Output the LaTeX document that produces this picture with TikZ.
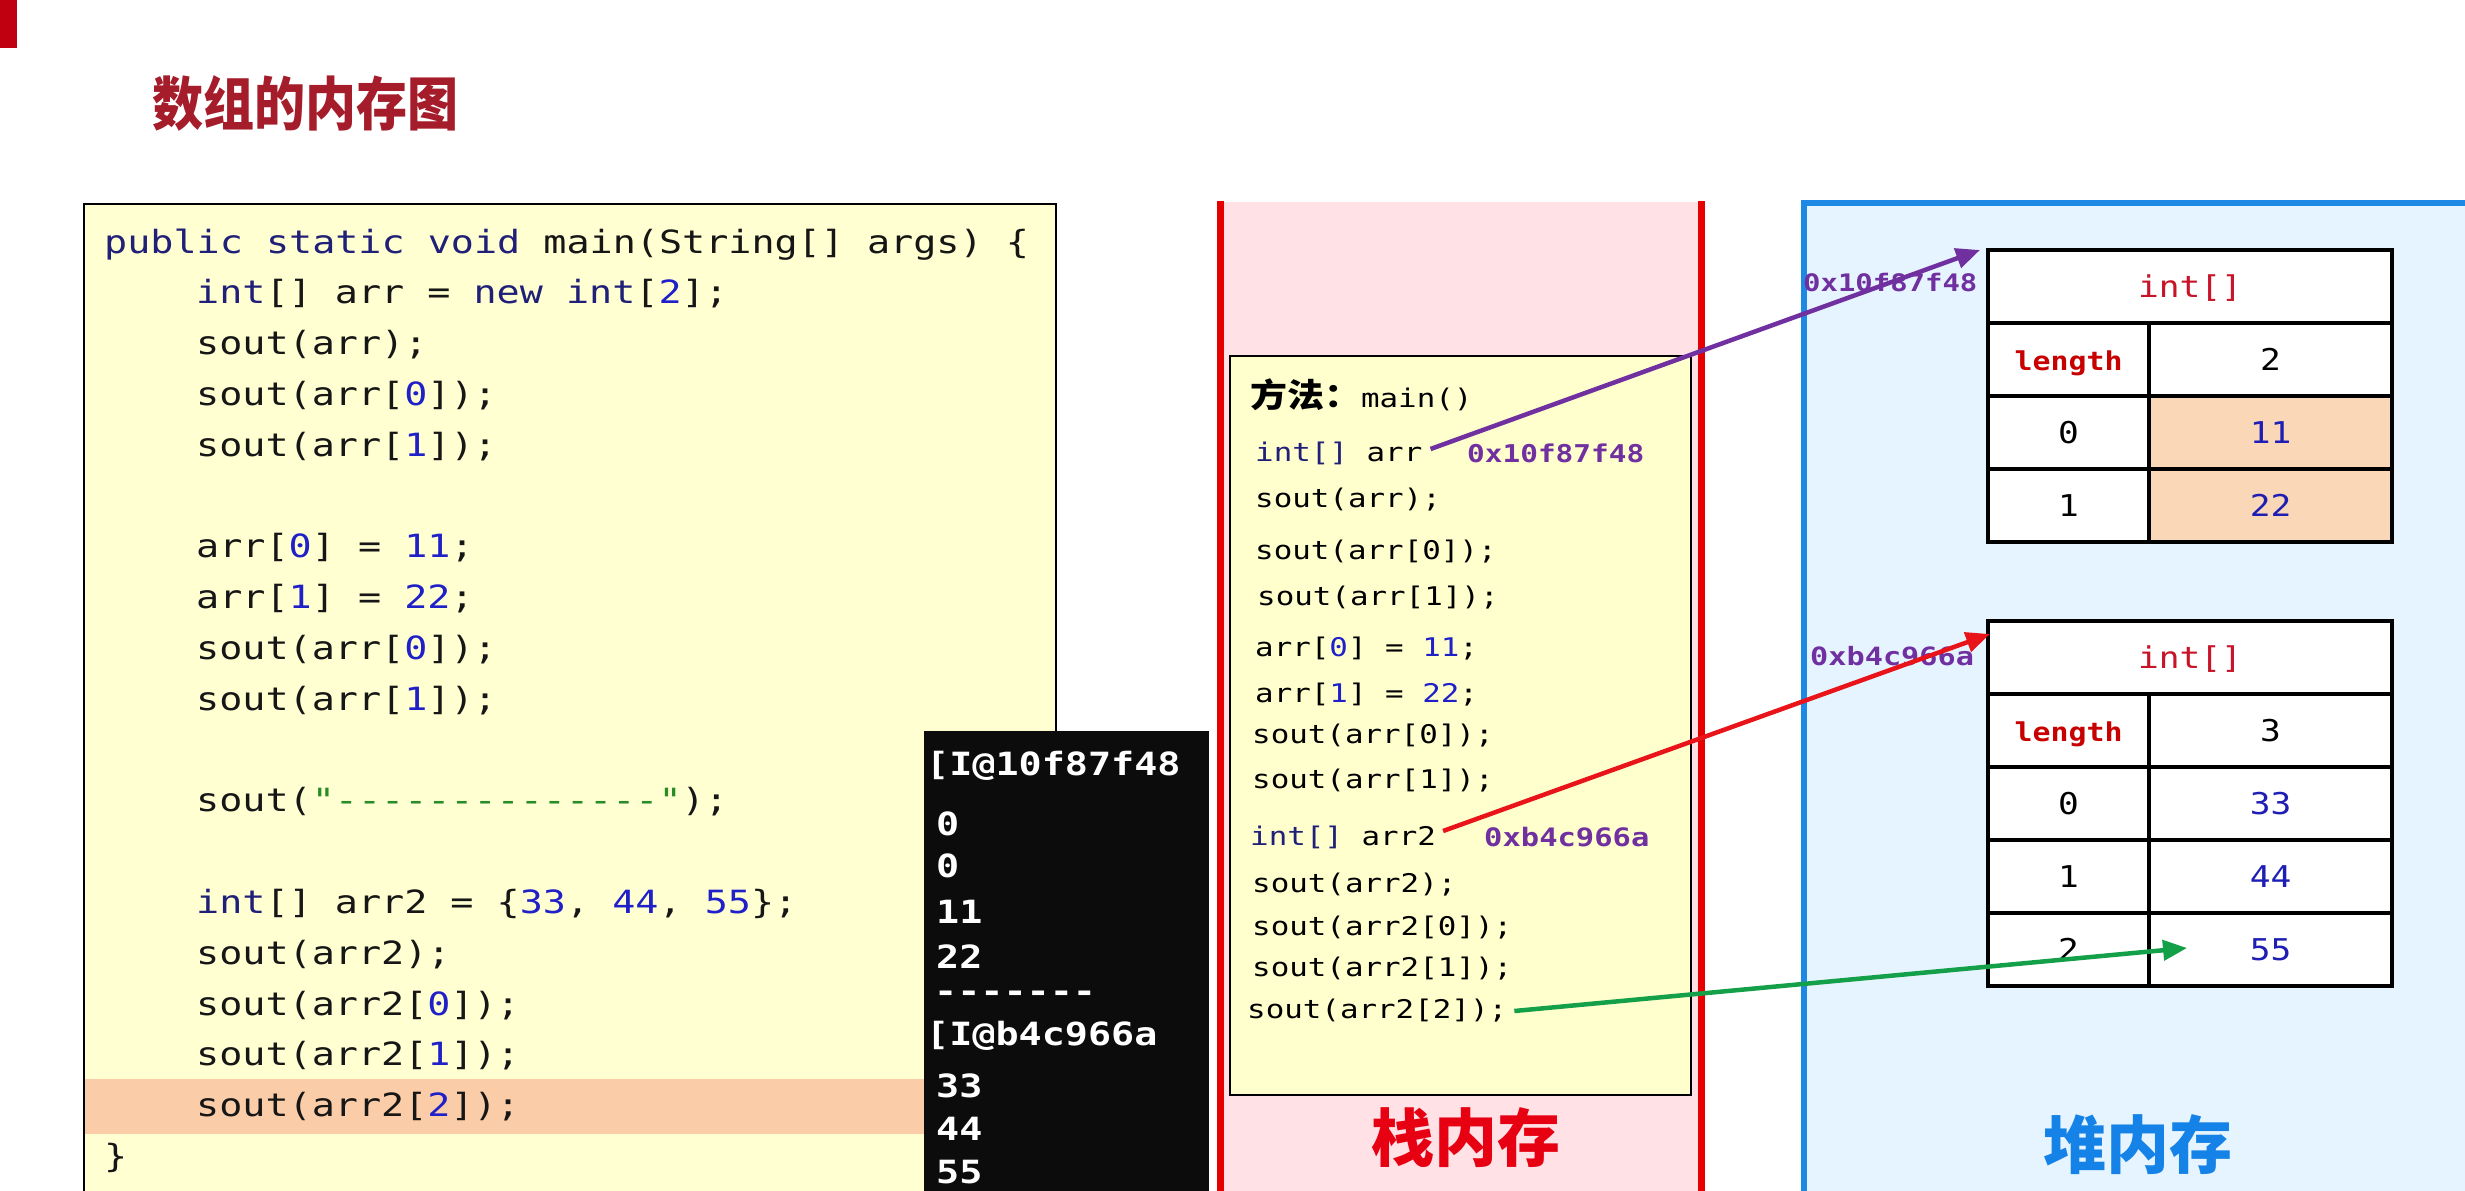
\documentclass[tikz,border=0pt]{standalone}
\usepackage{fontspec}
\usetikzlibrary{arrows.meta,calc}
\newfontfamily\codef{DejaVu Sans Mono}[FakeStretch=1.2]
\newfontfamily\tabf{DejaVu Sans Mono}[FakeStretch=1.15]
\newfontfamily\cjk{Noto Sans CJK SC}
\newfontfamily\cjkt{Noto Sans CJK SC}[FakeStretch=0.88]
\newfontfamily\cjkw{Noto Sans CJK SC}[FakeStretch=1.12]
\definecolor{redbar}{RGB}{192,0,16}
\definecolor{titlec}{RGB}{165,28,42}
\definecolor{codebg}{RGB}{255,255,210}
\definecolor{framebg}{RGB}{255,255,206}
\definecolor{hlc}{RGB}{251,204,168}
\definecolor{consbg}{RGB}{12,12,12}
\definecolor{kwc}{RGB}{32,32,120}
\definecolor{numc}{RGB}{32,32,200}
\definecolor{strc}{RGB}{40,140,40}
\definecolor{codec}{RGB}{22,22,22}
\definecolor{pinkc}{RGB}{255,225,230}
\definecolor{stackred}{RGB}{230,0,0}
\definecolor{heapbg}{RGB}{230,244,255}
\definecolor{heapblue}{RGB}{30,136,229}
\definecolor{stackt}{RGB}{230,0,18}
\definecolor{heapt}{RGB}{20,130,230}
\definecolor{purp}{RGB}{112,48,160}
\definecolor{redarr}{RGB}{232,20,26}
\definecolor{grn}{RGB}{20,160,72}
\definecolor{hdrc}{RGB}{200,20,40}
\definecolor{lenc}{RGB}{200,0,0}
\definecolor{valc}{RGB}{30,30,180}
\definecolor{peach}{RGB}{250,215,182}
\newcommand\kw[1]{\textcolor{kwc}{#1}}
\newcommand\nm[1]{\textcolor{numc}{#1}}
\newcommand\hy{-\kern0pt}
\tikzset{
  code/.style={anchor=base west, inner sep=0pt, font=\codef\fontsize{32}{38}\selectfont, text=codec},
  cons/.style={anchor=base west, inner sep=0pt, font=\codef\bfseries\fontsize{32}{38}\selectfont, text=white},
  stk/.style={anchor=base west, inner sep=0pt, font=\codef\fontsize{25.7}{30}\selectfont, text=black},
  addr/.style={anchor=base west, inner sep=0pt, font=\codef\bfseries\fontsize{24.5}{30}\selectfont, text=purp},
  cell/.style={draw=black, line width=4pt, rectangle, inner sep=0pt, minimum height=73pt,
    text height=21.9pt, text depth=0pt, font=\tabf\fontsize{30}{36}\selectfont, fill=white},
  hdr/.style={cell, minimum width=404pt, text=hdrc},
  lcell/.style={cell, minimum width=161pt},
  rcell/.style={cell, minimum width=243pt},
  ptr/.style={line width=4.5pt, -{Triangle[length=24pt,width=20pt]}},
  bigcjk/.style={anchor=base, inner sep=0pt, font=\cjk\bfseries\fontsize{63}{70}\selectfont},
}
\begin{document}
\begin{tikzpicture}[x=1pt, y=-1pt]
\useasboundingbox (0,0) rectangle (2465,1191);
\clip (0,0) rectangle (2465,1191);
\fill[white] (0,0) rectangle (2465,1191);
\fill[redbar] (0,0) rectangle (17,48);
\node[anchor=base west, inner sep=0pt, text=titlec, font=\cjkt\bfseries\fontsize{58}{64}\selectfont] (title) at (152,125) {数组的内存图};

% code box
\draw[fill=codebg, draw=black, line width=2pt] (84,204) rectangle (1056,1215);
\fill[hlc] (85,1079) rectangle (924,1134);
\node[code] (c1) at (104,253) {\kw{public static void} main(String[] args) \{};
\node[code] (c2) at (196,303.8) {\kw{int}[] arr = \kw{new} \kw{int}[\nm{2}];};
\node[code] (c3) at (196,354.6) {sout(arr);};
\node[code] (c4) at (196,405.4) {sout(arr[\nm{0}]);};
\node[code] (c5) at (196,456.2) {sout(arr[\nm{1}]);};
\node[code] (c7) at (196,557.8) {arr[\nm{0}] = \nm{11};};
\node[code] (c8) at (196,608.6) {arr[\nm{1}] = \nm{22};};
\node[code] (c9) at (196,659.4) {sout(arr[\nm{0}]);};
\node[code] (c10) at (196,710.2) {sout(arr[\nm{1}]);};
\node[code] (c12) at (196,811.8) {sout(\textcolor{strc}{"\hy\hy\hy\hy\hy\hy\hy\hy\hy\hy\hy\hy\hy\hy"});};
\node[code] (c14) at (196,913.4) {\kw{int}[] arr2 = \{\nm{33}, \nm{44}, \nm{55}\};};
\node[code] (c15) at (196,964.2) {sout(arr2);};
\node[code] (c16) at (196,1015) {sout(arr2[\nm{0}]);};
\node[code] (c17) at (196,1065.8) {sout(arr2[\nm{1}]);};
\node[code] (c18) at (196,1116.6) {sout(arr2[\nm{2}]);};
\node[code] (c19) at (104,1167.4) {\}};

% console
\fill[consbg] (924,731) rectangle (1209,1215);
\node[cons] (o1) at (926,775) {[I@10f87f48};
\node[cons] (o2) at (936,835) {0};
\node[cons] (o3) at (936,877) {0};
\node[cons] (o4) at (936,923) {11};
\node[cons] (o5) at (936,968) {22};
\node[cons] (o6) at (934,1002) {\hy\hy\hy\hy\hy\hy\hy};
\node[cons] (o7) at (926,1045) {[I@b4c966a};
\node[cons] (o8) at (936,1097) {33};
\node[cons] (o9) at (936,1140) {44};
\node[cons] (o10) at (936,1183) {55};

% stack
\fill[pinkc] (1220,202) rectangle (1701,1215);
\draw[stackred, line width=7pt] (1220.5,201) -- (1220.5,1215);
\draw[stackred, line width=7pt] (1701,201) -- (1701,1215);
\draw[fill=framebg, draw=black, line width=2.5pt] (1230,356) rectangle (1691,1095);
\node[stk] (s1) at (1250,407) {{\cjkw\bfseries\fontsize{33}{36}\selectfont 方法：}main()};
\node[stk] (sarr) at (1255,461) {\kw{int[]} arr};
\node[addr] (a1) at (1467,462) {0x10f87f48};
\node[stk] (s3) at (1255,507) {sout(arr);};
\node[stk] (s4) at (1255,559) {sout(arr[0]);};
\node[stk] (s5) at (1257,605) {sout(arr[1]);};
\node[stk] (s6) at (1255,656) {arr[\nm{0}] = \nm{11};};
\node[stk] (s7) at (1255,702) {arr[\nm{1}] = \nm{22};};
\node[stk] (s8) at (1252,743) {sout(arr[0]);};
\node[stk] (s9) at (1252,788) {sout(arr[1]);};
\node[stk] (sarr2) at (1250,845) {\kw{int[]} arr2};
\node[addr, font=\codef\bfseries\fontsize{25.4}{30}\selectfont] (a2) at (1484,846) {0xb4c966a};
\node[stk] (s11) at (1252,892) {sout(arr2);};
\node[stk] (s12) at (1252,935) {sout(arr2[0]);};
\node[stk] (s13) at (1252,976) {sout(arr2[1]);};
\node[stk] (s14) at (1247,1018) {sout(arr2[2]);};
\node[bigcjk, text=stackt] (stacklbl) at (1466,1161) {栈内存};

% heap
\draw[fill=heapbg, draw=heapblue, line width=6pt] (1804,203) rectangle (2495,1225);
\node[hdr] (t1h) at (2190,286.5) {int[]};
\node[lcell, text=lenc, font=\tabf\bfseries\fontsize{26}{30}\selectfont] (t1l) at (2068.5,359.5) {length};
\node[rcell] (t1lv) at (2270.5,359.5) {2};
\node[lcell] (t1i0) at (2068.5,432.5) {0};
\node[rcell, fill=peach, text=valc] (t1v0) at (2270.5,432.5) {11};
\node[lcell] (t1i1) at (2068.5,505.5) {1};
\node[rcell, fill=peach, text=valc] (t1v1) at (2270.5,505.5) {22};

\node[hdr] (t2h) at (2190,657.5) {int[]};
\node[lcell, text=lenc, font=\tabf\bfseries\fontsize{26}{30}\selectfont] (t2l) at (2068.5,730.5) {length};
\node[rcell] (t2lv) at (2270.5,730.5) {3};
\node[lcell] (t2i0) at (2068.5,803.5) {0};
\node[rcell, text=valc] (t2v0) at (2270.5,803.5) {33};
\node[lcell] (t2i1) at (2068.5,876.5) {1};
\node[rcell, text=valc] (t2v1) at (2270.5,876.5) {44};
\node[lcell] (t2i2) at (2068.5,949.5) {2};
\node[rcell, text=valc] (t2v2) at (2270.5,949.5) {55};
\node[bigcjk, text=heapt] (heaplbl) at (2138,1168) {堆内存};

% address labels near heap arrays
\node[addr, font=\codef\bfseries\fontsize{24.1}{30}\selectfont] (h1) at ($(t1h.north west)+(-183,43)$) {0x10f87f48};
\node[addr, font=\codef\bfseries\fontsize{25.2}{30}\selectfont] (h2) at ($(t2h.north west)+(-176,46)$) {0xb4c966a};

% pointers
\draw[ptr, draw=purp] ($(sarr.base east)+(8,-12)$) -- ($(t1h.north west)+(-6,2)$);
\draw[ptr, draw=redarr] ($(sarr2.base east)+(7,-14)$) -- ($(t2h.north west)+(4,15)$);
\draw[ptr, draw=grn] ($(s14.base east)+(7,-7)$) -- ($(t2v2.west)+(40,-1.5)$);
\end{tikzpicture}
\end{document}
